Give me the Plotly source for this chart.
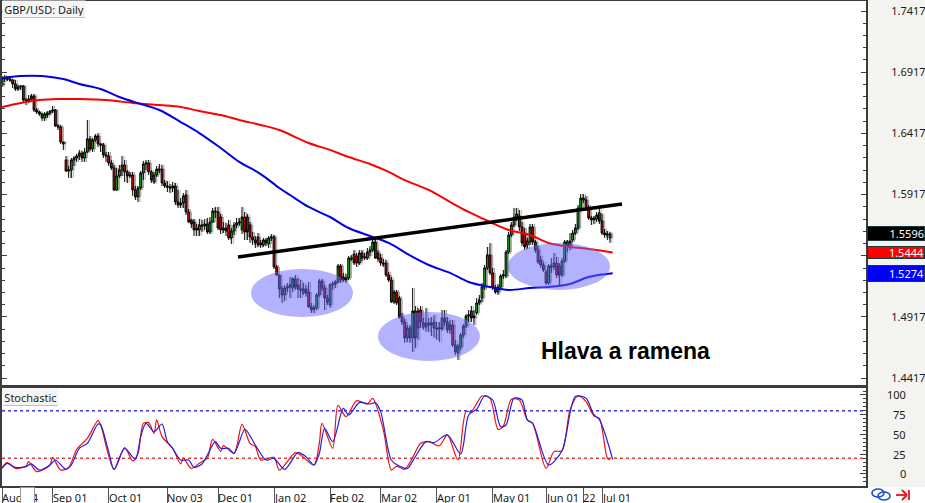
import plotly.graph_objects as go

W, H = 925, 503

opens = [
1.6812,1.6861,1.6869,1.6861,1.6853,1.6821,1.6780,1.6796,1.6804,1.6690,
1.6682,1.6698,1.6723,1.6608,1.6592,1.6543,1.6543,1.6567,1.6584,1.6600,
1.6608,1.6478,1.6470,1.6347,1.6200,1.6110,1.6118,1.6200,1.6216,1.6233,
1.6257,1.6216,1.6265,1.6372,1.6290,1.6363,1.6396,1.6331,1.6323,1.6241,
1.6233,1.6175,1.6135,1.5955,1.6069,1.6118,1.6159,1.6102,1.6069,1.6077,
1.5955,1.5898,1.5971,1.6094,1.6167,1.6175,1.6102,1.6020,1.6077,1.6126,
1.6126,1.6012,1.5987,1.5979,1.5971,1.5987,1.5857,1.5832,1.5849,1.5914,
1.5775,1.5710,1.5693,1.5628,1.5628,1.5669,1.5661,1.5677,1.5612,1.5693,
1.5783,1.5775,1.5734,1.5628,1.5644,1.5669,1.5563,1.5620,1.5669,1.5685,
1.5628,1.5734,1.5734,1.5669,1.5571,1.5546,1.5571,1.5505,1.5505,1.5546,
1.5514,1.5563,1.5571,1.5326,1.5260,1.5146,1.5097,1.5154,1.5162,1.5154,
1.5228,1.5179,1.5146,1.5113,1.5146,1.5121,1.4999,1.4991,1.4991,1.5097,
1.5211,1.5154,1.5072,1.5015,1.5179,1.5187,1.5203,1.5334,1.5244,1.5219,
1.5236,1.5399,1.5432,1.5415,1.5358,1.5440,1.5399,1.5399,1.5448,1.5464,
1.5530,1.5440,1.5399,1.5358,1.5358,1.5260,1.5219,1.5040,1.5121,1.5072,
1.4917,1.4876,1.4746,1.4827,1.4746,1.4966,1.4966,1.4974,1.4835,1.4835,
1.4868,1.4852,1.4876,1.4827,1.4819,1.4819,1.4909,1.4876,1.4811,1.4852,
1.4688,1.4623,1.4672,1.4770,1.4844,1.4925,1.4966,1.4925,1.4950,1.5032,
1.5072,1.5162,1.5318,1.5424,1.5277,1.5154,1.5121,1.5162,1.5252,1.5252,
1.5448,1.5587,1.5669,1.5734,1.5743,1.5652,1.5603,1.5505,1.5530,1.5652,
1.5530,1.5464,1.5383,1.5342,1.5285,1.5195,1.5334,1.5326,1.5358,1.5334,
1.5260,1.5375,1.5530,1.5489,1.5546,1.5603,1.5644,1.5808,1.5889,1.5873,
1.5808,1.5726,1.5710,1.5718,1.5767,1.5702,1.5603,1.5587,1.5563]

closes = [
1.6869,1.6869,1.6861,1.6853,1.6821,1.6780,1.6796,1.6804,1.6690,1.6682,
1.6698,1.6723,1.6608,1.6592,1.6576,1.6576,1.6576,1.6584,1.6600,1.6608,
1.6478,1.6470,1.6347,1.6331,1.6110,1.6118,1.6200,1.6216,1.6233,1.6257,
1.6216,1.6265,1.6372,1.6290,1.6363,1.6396,1.6331,1.6323,1.6241,1.6233,
1.6175,1.6135,1.5955,1.6069,1.6118,1.6159,1.6102,1.6069,1.6077,1.5955,
1.5898,1.5971,1.6094,1.6167,1.6175,1.6102,1.6036,1.6077,1.6126,1.6118,
1.6012,1.5987,1.5979,1.5971,1.5987,1.5857,1.5832,1.5849,1.5906,1.5775,
1.5693,1.5677,1.5628,1.5644,1.5669,1.5661,1.5677,1.5612,1.5693,1.5783,
1.5775,1.5644,1.5628,1.5644,1.5620,1.5563,1.5620,1.5669,1.5685,1.5693,
1.5734,1.5612,1.5612,1.5571,1.5546,1.5522,1.5505,1.5522,1.5546,1.5522,
1.5563,1.5571,1.5326,1.5260,1.5146,1.5097,1.5154,1.5162,1.5179,1.5228,
1.5162,1.5146,1.5138,1.5146,1.5113,1.4999,1.4974,1.4983,1.5097,1.5211,
1.5154,1.5072,1.5040,1.5179,1.5187,1.5203,1.5334,1.5219,1.5219,1.5236,
1.5399,1.5391,1.5358,1.5358,1.5440,1.5399,1.5407,1.5448,1.5464,1.5530,
1.5399,1.5391,1.5358,1.5350,1.5260,1.5219,1.5040,1.5121,1.5032,1.4917,
1.4876,1.4746,1.4827,1.4746,1.4966,1.4746,1.4827,1.4876,1.4868,1.4868,
1.4852,1.4868,1.4827,1.4819,1.4827,1.4909,1.4876,1.4811,1.4852,1.4688,
1.4631,1.4672,1.4770,1.4844,1.4925,1.4933,1.4909,1.4909,1.5032,1.5056,
1.5162,1.5318,1.5424,1.5277,1.5154,1.5121,1.5162,1.5252,1.5260,1.5448,
1.5587,1.5669,1.5734,1.5759,1.5652,1.5522,1.5489,1.5538,1.5652,1.5530,
1.5464,1.5367,1.5342,1.5301,1.5195,1.5334,1.5326,1.5358,1.5260,1.5260,
1.5375,1.5530,1.5489,1.5538,1.5603,1.5644,1.5808,1.5889,1.5873,1.5808,
1.5726,1.5710,1.5726,1.5751,1.5702,1.5603,1.5587,1.5595,1.5596]

highs = [
1.6886,1.6894,1.6886,1.6886,1.6861,1.6853,1.6812,1.6812,1.6812,1.6706,
1.6731,1.6739,1.6739,1.6625,1.6600,1.6584,1.6592,1.6600,1.6608,1.6641,
1.6617,1.6494,1.6486,1.6347,1.6233,1.6151,1.6216,1.6233,1.6249,1.6282,
1.6274,1.6298,1.6527,1.6396,1.6380,1.6412,1.6420,1.6339,1.6339,1.6265,
1.6265,1.6200,1.6159,1.6135,1.6159,1.6233,1.6200,1.6118,1.6102,1.6102,
1.5987,1.5987,1.6110,1.6192,1.6200,1.6200,1.6118,1.6102,1.6151,1.6167,
1.6159,1.6036,1.6028,1.6004,1.6020,1.6012,1.5955,1.5889,1.5930,1.5955,
1.5799,1.5718,1.5718,1.5677,1.5718,1.5710,1.5718,1.5726,1.5734,1.5808,
1.5816,1.5816,1.5759,1.5693,1.5685,1.5710,1.5644,1.5693,1.5726,1.5726,
1.5816,1.5775,1.5759,1.5693,1.5612,1.5579,1.5603,1.5546,1.5563,1.5563,
1.5579,1.5595,1.5587,1.5342,1.5260,1.5170,1.5179,1.5195,1.5244,1.5244,
1.5260,1.5236,1.5219,1.5195,1.5179,1.5203,1.5032,1.5015,1.5113,1.5228,
1.5228,1.5179,1.5097,1.5195,1.5211,1.5219,1.5350,1.5350,1.5277,1.5269,
1.5415,1.5424,1.5464,1.5440,1.5464,1.5464,1.5440,1.5481,1.5497,1.5546,
1.5563,1.5464,1.5432,1.5391,1.5383,1.5285,1.5244,1.5138,1.5138,1.5089,
1.4950,1.4901,1.4852,1.4852,1.5154,1.5007,1.4991,1.5007,1.4909,1.4991,
1.4909,1.4917,1.4933,1.4876,1.4876,1.4974,1.4974,1.4917,1.4893,1.4893,
1.4729,1.4696,1.4786,1.4860,1.4941,1.4974,1.5007,1.4974,1.5072,1.5097,
1.5195,1.5342,1.5489,1.5522,1.5318,1.5179,1.5187,1.5269,1.5301,1.5464,
1.5612,1.5693,1.5808,1.5808,1.5791,1.5693,1.5644,1.5563,1.5677,1.5677,
1.5546,1.5497,1.5416,1.5367,1.5301,1.5350,1.5399,1.5440,1.5407,1.5358,
1.5399,1.5546,1.5546,1.5603,1.5628,1.5677,1.5832,1.5922,1.5922,1.5906,
1.5832,1.5743,1.5743,1.5775,1.5799,1.5759,1.5636,1.5620,1.5612]

lows = [
1.6796,1.6837,1.6845,1.6837,1.6788,1.6764,1.6764,1.6772,1.6673,1.6649,
1.6666,1.6682,1.6592,1.6576,1.6560,1.6519,1.6519,1.6543,1.6567,1.6584,
1.6470,1.6445,1.6331,1.6282,1.6102,1.6053,1.6053,1.6151,1.6184,1.6200,
1.6184,1.6184,1.6257,1.6274,1.6265,1.6347,1.6306,1.6265,1.6216,1.6184,
1.6151,1.6118,1.5947,1.5947,1.6053,1.6069,1.6020,1.6012,1.6053,1.5906,
1.5873,1.5857,1.5955,1.6036,1.6118,1.6077,1.6012,1.6004,1.6061,1.6094,
1.5987,1.5971,1.5938,1.5930,1.5938,1.5832,1.5808,1.5808,1.5808,1.5751,
1.5685,1.5644,1.5579,1.5579,1.5579,1.5612,1.5628,1.5595,1.5595,1.5685,
1.5726,1.5628,1.5595,1.5603,1.5579,1.5546,1.5514,1.5587,1.5644,1.5661,
1.5595,1.5546,1.5546,1.5522,1.5505,1.5481,1.5489,1.5481,1.5489,1.5497,
1.5481,1.5538,1.5309,1.5252,1.5072,1.5032,1.5048,1.5121,1.5072,1.5121,
1.5138,1.5072,1.5072,1.5097,1.5081,1.4991,1.4950,1.4950,1.4974,1.5081,
1.5130,1.4974,1.5015,1.4991,1.5138,1.5154,1.5195,1.5195,1.5203,1.5195,
1.5219,1.5375,1.5342,1.5326,1.5342,1.5375,1.5383,1.5383,1.5415,1.5448,
1.5391,1.5367,1.5334,1.5326,1.5244,1.5203,1.5032,1.5023,1.5015,1.4901,
1.4852,1.4705,1.4713,1.4705,1.4631,1.4664,1.4729,1.4827,1.4811,1.4795,
1.4795,1.4762,1.4746,1.4729,1.4713,1.4803,1.4844,1.4786,1.4778,1.4672,
1.4607,1.4566,1.4647,1.4746,1.4827,1.4876,1.4876,1.4852,1.4934,1.5015,
1.5040,1.5138,1.5301,1.5260,1.5138,1.5105,1.5097,1.5138,1.5228,1.5236,
1.5432,1.5571,1.5652,1.5702,1.5620,1.5497,1.5464,1.5473,1.5505,1.5505,
1.5440,1.5350,1.5318,1.5285,1.5179,1.5179,1.5277,1.5301,1.5236,1.5179,
1.5244,1.5358,1.5448,1.5464,1.5530,1.5587,1.5628,1.5791,1.5848,1.5783,
1.5710,1.5669,1.5677,1.5693,1.5677,1.5587,1.5563,1.5546,1.5522]

ma_blue_x = [0,7,15,23,29,37,44,52,59,67,74,82,89,97,104,108,115,123,130,138,145,153,160,168,175,183,190,198,205,213,220,229]
ma_blue = [1.6869,1.6886,1.6886,1.6861,1.6821,1.6780,1.6715,1.6657,1.6608,1.6510,1.6420,1.6298,1.6184,1.6085,1.5971,1.5914,1.5816,1.5734,1.5644,1.5579,1.5522,1.5420,1.5342,1.5277,1.5203,1.5162,1.5138,1.5154,1.5162,1.5187,1.5244,1.5274]
ma_red_x = [0,7,14,22,29,39,49,59,67,74,82,89,97,104,115,123,130,138,145,151,160,168,175,183,190,198,205,213,220,229]
ma_red = [1.6633,1.6666,1.6690,1.6698,1.6698,1.6690,1.6666,1.6649,1.6633,1.6600,1.6567,1.6527,1.6486,1.6445,1.6339,1.6282,1.6224,1.6167,1.6102,1.6036,1.5955,1.5857,1.5775,1.5693,1.5628,1.5587,1.5522,1.5489,1.5473,1.5444]

sto_d_x = [0,2,5,9,11,14,18,20,24,26,29,32,36,37,40,42,46,50,52,54,57,60,62,64,67,70,72,75,77,80,82,85,87,91,92,95,99,102,106,111,114,117,119,121,124,128,130,134,138,140,142,146,149,152,155,159,162,167,172,175,178,181,184,187,189,192,195,197,199,205,210,215,219,222,224,229]
sto_d = [7,13.5,8.4,9.3,12.7,5,11.4,17.7,5.9,11.4,32.5,38.8,63.3,62,28.3,5.9,32.5,18.6,47.3,64.1,53.6,63.3,40.9,32.5,17.7,17.7,8.4,12.7,24,40.9,32.5,32.5,26,56.6,53.6,36.7,17.7,19.8,5.9,27,21.9,11.4,26,57.8,41,83,74.7,90.3,88.6,90.3,78.9,17.7,10,7,22,41,39.7,49.4,25.3,74.7,81.9,98.7,93.7,59.9,62,95.8,93.7,68.4,64,11.4,29.5,98,95.8,74.7,69.2,18.6]
sto_k_x = [0,2,5,9,10,13,18,19,22,25,28,32,36,37,42,46,49,51,53,55,57,58,60,64,67,68,71,74,77,79,82,83,87,90,93,95,97,102,104,110,112,117,119,120,124,126,129,133,137,139,143,146,148,151,154,157,160,164,167,171,174,176,180,183,186,188,191,194,197,199,204,207,210,213,216,219,222,224,227,228]
sto_k = [8.4,14.3,7,10,15.6,3,11.4,21,5,8.4,31,45,67.5,62,5.9,33.3,16.5,26,64,65,51.5,68.4,47.3,32.5,12.7,20,7,13.5,20,43.9,28.3,35.9,26,62.9,38.8,34.6,17.7,21,5,27,24,11.4,39,64,32.5,87,72.6,92.8,88.6,95.8,55.8,5,10,5.9,21,38.8,40.9,35.7,49.4,17.7,78.9,78.9,98.7,95.8,56.5,60.8,94.5,93.7,68.4,64,7.2,28.3,29.5,81,98.7,91.6,73.4,70.5,20,17.7]

neck_x = [88.5, 232.5]
neck_y = [1.5407, 1.5840]
ellipse_x0 = [93.4, 141, 189.7]
ellipse_x1 = [131.6, 179.2, 228]
ellipse_y0 = [1.4917, 1.4558, 1.5138]
ellipse_y1 = [1.5309, 1.4958, 1.5522]

date_ticks = [0, 19, 40, 62, 81, 102, 123, 142, 163, 184, 204, 218, 225]
date_labels = ["Aug 14", "Sep 01", "Oct 01", "Nov 03", "Dec 01", "Jan 02", "Feb 02", "Mar 02", "Apr 01", "May 01", "Jun 01", "22", "Jul 01"]
price_ticks = [1.4417, 1.4917, 1.5417, 1.5917, 1.6417, 1.6917, 1.7417]
price_labels = ["1.4417", "1.4917", "", "1.5917", "1.6417", "1.6917", "1.7417"]
stoch_ticks = [100, 75, 50, 25, 0]
last_prices = [1.5596, 1.5444, 1.5274]
tag_colors = ["#000000", "#ff0000", "#0000ff"]

UI = "Noto Sans"
AX = "#3c3c3c"
px = lambda v: v / W
py = lambda v: 1 - v / H

fig = go.Figure()
bars = list(range(len(opens)))
# soft grey offset behind each candle, on its own hidden x axis shifted by a fraction of a bar
fig.add_trace(go.Candlestick(
    x=bars, open=opens, high=highs, low=lows, close=closes,
    increasing=dict(fillcolor="#a8a8a8", line=dict(color="#a8a8a8", width=1)),
    decreasing=dict(fillcolor="#a8a8a8", line=dict(color="#a8a8a8", width=1)),
    whiskerwidth=0, showlegend=False, xaxis="x3", yaxis="y"))
fig.add_trace(go.Candlestick(
    x=bars, open=opens, high=highs, low=lows, close=closes,
    increasing=dict(fillcolor="#00c800", line=dict(color="#000000", width=1)),
    decreasing=dict(fillcolor="#f00000", line=dict(color="#000000", width=1)),
    whiskerwidth=0, showlegend=False, xaxis="x", yaxis="y"))
fig.add_trace(go.Scatter(x=ma_red_x, y=ma_red, mode="lines", line=dict(color="#ff0000", width=2, shape="spline"), showlegend=False, xaxis="x", yaxis="y"))
fig.add_trace(go.Scatter(x=ma_blue_x, y=ma_blue, mode="lines", line=dict(color="#0000e6", width=2, shape="spline"), showlegend=False, xaxis="x", yaxis="y"))
fig.add_trace(go.Scatter(x=sto_k_x, y=sto_k, mode="lines", line=dict(color="#f01010", width=1.2, shape="spline", smoothing=0.8), showlegend=False, xaxis="x2", yaxis="y2"))
fig.add_trace(go.Scatter(x=sto_d_x, y=sto_d, mode="lines", line=dict(color="#2020e0", width=1.2, shape="spline", smoothing=0.8), showlegend=False, xaxis="x2", yaxis="y2"))

shapes = []
for a, b, c, d in zip(ellipse_x0, ellipse_x1, ellipse_y0, ellipse_y1):
    shapes.append(dict(type="circle", xref="x", yref="y", x0=a, x1=b, y0=c, y1=d,
                       fillcolor="rgba(102,102,255,0.5)", line=dict(width=0), layer="above"))
shapes.append(dict(type="line", xref="x", yref="y", x0=neck_x[0], x1=neck_x[1], y0=neck_y[0], y1=neck_y[1],
                   line=dict(color="#000000", width=3.4), layer="above"))
for lvl, col in ((80, "#3a3ad8"), (20, "#e04040")):
    shapes.append(dict(type="line", xref="x2 domain", yref="y2", x0=0, x1=1, y0=lvl, y1=lvl,
                       line=dict(color=col, width=1.4, dash="dot"), layer="below"))
# right-hand scale background
shapes.append(dict(type="rect", xref="paper", yref="paper", x0=px(867), x1=1, y0=py(487), y1=1,
                   fillcolor="#f3f3f0", line=dict(width=0), layer="below"))
# label box shadows
for x0, y0, x1, y1 in ((3, 3, 85, 18), (3, 391, 58, 406)):
    shapes.append(dict(type="rect", xref="paper", yref="paper", x0=px(x0), x1=px(x1), y0=py(y0), y1=py(y1),
                       fillcolor="#8a8a8a", line=dict(width=0), layer="above"))
# link icon and arrow
for x0, y0, x1, y1 in ((872, 489, 884, 497), (878, 492, 890, 500)):
    shapes.append(dict(type="circle", xref="paper", yref="paper", x0=px(x0), x1=px(x1), y0=py(y0), y1=py(y1),
                       line=dict(color="#1a4fd0", width=1.6), layer="above"))
for a, b, c, d in ((896, 495, 907, 495), (902, 490, 907, 495), (902, 500, 907, 495), (909, 490, 909, 500)):
    shapes.append(dict(type="line", xref="paper", yref="paper", x0=px(a), x1=px(c), y0=py(b), y1=py(d),
                       line=dict(color="#e8101a", width=1.8), layer="above"))

ann = []
font = dict(family=UI, size=11, color="#1a1a1a")
for v, t in zip(date_ticks, date_labels):
    ann.append(dict(xref="x2", yref="paper", x=v, y=py(496.5), text=t, showarrow=False, xanchor="left", yanchor="middle",
                    xshift=-1, height=12, borderpad=0, font=font))
ann.append(dict(xref="paper", yref="paper", x=px(20), y=py(495), text=" ", showarrow=False, xanchor="left", yanchor="middle",
                width=11, height=13, bgcolor="#ffffff", bordercolor="#999999", borderwidth=1))
for v in stoch_ticks:
    ann.append(dict(xref="paper", yref="y2", x=px(908), y=v, text=str(v), showarrow=False, xanchor="right", yanchor="middle", font=font))
for v, c, h in zip(last_prices, tag_colors, (13, 11, 15)):
    ann.append(dict(xref="paper", yref="y", x=1, y=v, text=f"{v:.4f}", showarrow=False, xanchor="right", yanchor="middle",
                    width=56, height=h, borderpad=0, align="right", bgcolor=c, bordercolor="#1a3a3a", borderwidth=1,
                    font=dict(family=UI, size=11, color="#ffffff")))
ann.append(dict(xref="paper", yref="paper", x=px(2), y=py(9), text="GBP/USD: Daily", showarrow=False, xanchor="left", yanchor="middle",
                width=80, height=14, bgcolor="#f5f5f5", font=font))
ann.append(dict(xref="paper", yref="paper", x=px(2), y=py(397), text="Stochastic", showarrow=False, xanchor="left", yanchor="middle",
                width=53, height=14, bgcolor="#f5f5f5", font=font))
ann.append(dict(xref="x", yref="y", x=233.8, y=1.4640, text="<b>Hlava a ramena</b>", showarrow=False, xanchor="center", yanchor="middle",
                font=dict(family="Liberation Sans", size=23, color="#000000")))

fig.update_layout(
    width=W, height=H, margin=dict(l=0, r=0, t=0, b=0),
    paper_bgcolor="#ffffff", plot_bgcolor="#ffffff", showlegend=False, boxgap=0.05,
    shapes=shapes, annotations=ann,
    xaxis3=dict(domain=[px(2), px(866)], range=[-0.7, 323.3], anchor="y", visible=False,
                rangeslider=dict(visible=False)),
    xaxis=dict(domain=[px(2), px(866)], range=[0, 324], anchor="y", overlaying="x3", showticklabels=False, ticks="", showgrid=False, zeroline=False,
               rangeslider=dict(visible=False), showline=True, linecolor=AX, linewidth=2, mirror=True),
    yaxis=dict(domain=[py(386), py(1)], range=[1.4353, 1.7499], side="right", anchor="x", showgrid=False, zeroline=False,
               tickvals=price_ticks, ticktext=price_labels, ticks="inside", ticklen=5, tickcolor=AX, tickwidth=1,
               minor=dict(dtick=0.01, tick0=1.4417, ticks="inside", ticklen=3, tickcolor=AX),
               showline=True, linecolor=AX, linewidth=2, mirror="ticks",
               ticklabelstandoff=21, tickfont=font),
    xaxis2=dict(domain=[px(2), px(866)], range=[0, 324], anchor="y2", showgrid=False, zeroline=False,
                tickvals=date_ticks, ticktext=[""] * len(date_ticks), ticks="outside", ticklen=17, tickcolor="#555555", tickwidth=1,
                showline=True, linecolor=AX, linewidth=2, mirror=True),
    yaxis2=dict(domain=[py(486), py(387)], range=[-15.2, 110.1], side="right", anchor="x2", showgrid=False, zeroline=False,
                tickvals=stoch_ticks, showticklabels=False, ticks="inside", ticklen=6, tickcolor=AX,
                minor=dict(dtick=5, ticks="inside", ticklen=3, tickcolor=AX),
                showline=True, linecolor=AX, linewidth=2, mirror=True),
)
fig.write_html("out.html", config=dict(displayModeBar=False),
               post_script="document.body.style.margin='0';document.body.style.overflow='hidden';")
